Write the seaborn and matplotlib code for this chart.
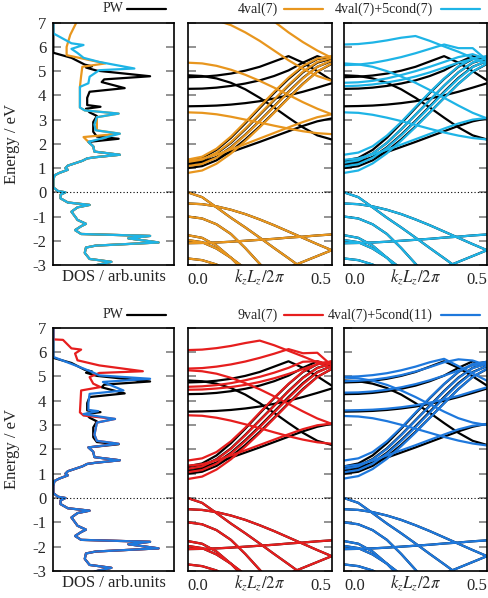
import matplotlib
matplotlib.use('Agg')
import matplotlib.pyplot as plt
from matplotlib.lines import Line2D
import pandas as pd
import seaborn as sns

# k-points along the wire axis (k_z L_z / 2pi)
K = [0.0, 0.05, 0.10, 0.15, 0.20, 0.25, 0.30, 0.35, 0.40, 0.45, 0.50]

# valence bands (same in all panels)
VALENCE = [
    [0.00, -0.20, -0.62, -1.05, -1.45, -1.87, -2.30, -2.72, -3.15, -3.60, -4.00],
    [-0.46, -0.49, -0.58, -0.72, -0.90, -1.12, -1.36, -1.62, -1.88, -2.14, -2.39],
    [-1.00, -1.08, -1.32, -1.72, -2.30, -2.95, -3.60, -4.20, -4.80, -5.30, -5.70],
    [-2.10, -2.09, -2.07, -2.04, -2.00, -1.96, -1.92, -1.87, -1.83, -1.78, -1.74],
    [-1.77, -1.88, -2.20, -2.70, -3.30, -3.90, -4.50, -5.10, -5.60, -6.00, -6.30],
    [-1.97, -2.06, -2.32, -2.70, -3.15, -3.70, -4.20, -4.70, -5.20, -5.60, -5.90],
    [-2.73, -2.80, -2.98, -3.30, -3.70, -4.10, -4.50, -4.90, -5.30, -5.60, -5.90],
    [-5.00, -4.80, -4.60, -4.40, -4.20, -3.95, -3.60, -3.11, -2.87, -2.63, -2.39],
]

# conduction bands, plane waves reference
PW_COND = [
    [1.00, 1.08, 1.32, 1.70, 2.18, 2.72, 3.30, 3.90, 4.48, 4.98, 5.30],
    [1.10, 1.19, 1.45, 1.86, 2.38, 2.95, 3.55, 4.15, 4.72, 5.18, 5.42],
    [1.22, 1.32, 1.60, 2.04, 2.60, 3.20, 3.80, 4.40, 4.95, 5.35, 5.52],
    [1.30, 1.42, 1.75, 2.25, 2.85, 3.48, 4.10, 4.68, 5.18, 5.50, 5.60],
    [1.18, 1.26, 1.45, 1.66, 1.87, 2.08, 2.30, 2.52, 2.74, 2.93, 3.05],
    [3.55, 3.56, 3.58, 3.62, 3.68, 3.76, 3.87, 4.00, 4.15, 4.32, 4.50],
    [4.27, 4.28, 4.32, 4.39, 4.49, 4.62, 4.80, 5.03, 5.35, 5.62, 5.40],
    [4.75, 4.77, 4.82, 4.90, 5.02, 5.18, 5.40, 5.62, 5.35, 5.00, 4.62],
    [4.83, 4.80, 4.70, 4.52, 4.25, 3.90, 3.50, 3.08, 2.68, 2.35, 2.18],
]

# 4val(7)
VAL4_COND = [
    [0.80, 0.90, 1.18, 1.60, 2.12, 2.68, 3.28, 3.88, 4.46, 4.98, 5.32],
    [1.08, 1.17, 1.43, 1.84, 2.36, 2.93, 3.53, 4.13, 4.70, 5.18, 5.45],
    [1.25, 1.35, 1.63, 2.07, 2.63, 3.23, 3.83, 4.43, 4.98, 5.38, 5.55],
    [1.35, 1.47, 1.80, 2.30, 2.90, 3.53, 4.15, 4.73, 5.22, 5.52, 5.62],
    [1.30, 1.38, 1.56, 1.77, 1.99, 2.22, 2.45, 2.68, 2.90, 3.10, 3.22],
    [3.30, 3.28, 3.22, 3.12, 3.00, 2.88, 2.75, 2.63, 2.52, 2.44, 2.40],
    [5.35, 5.32, 5.22, 5.06, 4.85, 4.60, 4.32, 4.02, 3.72, 3.45, 3.22],
    [7.30, 7.25, 7.10, 6.90, 6.60, 6.25, 5.85, 5.45, 5.10, 4.80, 4.60],
    [8.80, 8.70, 8.50, 8.20, 7.85, 7.45, 7.05, 6.60, 6.20, 5.85, 5.55],
]

# 4val(7)+5cond(7)
VAL4_COND5_7 = [
    [6.10, 6.12, 6.18, 6.27, 6.38, 6.45, 6.25, 6.02, 5.80, 5.55, 5.30],
    [5.25, 5.27, 5.34, 5.45, 5.58, 5.74, 5.92, 6.10, 5.95, 5.95, 5.45],
    [5.32, 5.28, 5.18, 5.00, 4.78, 4.52, 4.22, 3.90, 3.58, 3.28, 3.05],
    [4.52, 4.54, 4.60, 4.70, 4.84, 5.00, 5.18, 5.38, 5.58, 5.70, 5.50],
    [4.38, 4.40, 4.45, 4.53, 4.64, 4.78, 4.95, 5.15, 5.35, 5.50, 5.35],
    [3.30, 3.28, 3.20, 3.08, 2.94, 2.78, 2.62, 2.47, 2.34, 2.24, 2.18],
    [0.80, 0.90, 1.19, 1.61, 2.13, 2.69, 3.29, 3.89, 4.47, 4.98, 5.32],
    [1.07, 1.16, 1.42, 1.83, 2.35, 2.92, 3.52, 4.12, 4.69, 5.17, 5.44],
    [1.22, 1.32, 1.60, 2.04, 2.60, 3.20, 3.80, 4.40, 4.95, 5.36, 5.54],
    [1.55, 1.64, 1.90, 2.34, 2.90, 3.52, 4.13, 4.70, 5.20, 5.52, 5.62],
    [1.34, 1.40, 1.56, 1.76, 1.97, 2.19, 2.41, 2.63, 2.84, 3.00, 3.07],
]

# 9val(7)
VAL9_COND = [
    [6.08, 6.10, 6.16, 6.25, 6.37, 6.47, 6.28, 6.05, 5.82, 5.58, 5.33],
    [5.32, 5.34, 5.40, 5.49, 5.61, 5.76, 5.93, 6.12, 5.95, 5.97, 5.45],
    [5.25, 5.21, 5.11, 4.94, 4.72, 4.47, 4.18, 3.87, 3.56, 3.27, 3.05],
    [4.57, 4.59, 4.64, 4.72, 4.84, 4.98, 5.15, 5.35, 5.60, 5.62, 5.48],
    [4.45, 4.46, 4.50, 4.56, 4.65, 4.77, 4.92, 5.10, 5.30, 5.50, 5.62],
    [3.40, 3.38, 3.30, 3.18, 3.03, 2.87, 2.70, 2.54, 2.40, 2.29, 2.23],
    [0.78, 0.88, 1.17, 1.59, 2.11, 2.67, 3.27, 3.87, 4.45, 4.97, 5.31],
    [1.06, 1.15, 1.41, 1.82, 2.34, 2.91, 3.51, 4.11, 4.68, 5.16, 5.43],
    [1.20, 1.30, 1.58, 2.02, 2.58, 3.18, 3.78, 4.38, 4.93, 5.34, 5.53],
    [1.54, 1.63, 1.89, 2.33, 2.89, 3.51, 4.12, 4.69, 5.19, 5.51, 5.61],
    [1.33, 1.39, 1.55, 1.75, 1.96, 2.18, 2.40, 2.62, 2.83, 2.99, 3.06],
]

# 4val(7)+5cond(11)
VAL4_COND5_11 = [
    [4.98, 5.00, 5.05, 5.13, 5.25, 5.40, 5.58, 5.72, 5.42, 5.12, 4.82],
    [4.80, 4.82, 4.86, 4.94, 5.05, 5.20, 5.38, 5.58, 5.70, 5.65, 5.45],
    [4.33, 4.34, 4.38, 4.45, 4.55, 4.68, 4.84, 5.03, 5.24, 5.45, 5.55],
    [3.60, 3.61, 3.63, 3.67, 3.73, 3.81, 3.92, 4.05, 4.20, 4.38, 4.55],
    [4.95, 4.92, 4.82, 4.65, 4.42, 4.15, 3.85, 3.55, 3.28, 3.10, 3.00],
    [3.37, 3.35, 3.28, 3.16, 3.01, 2.85, 2.68, 2.51, 2.36, 2.24, 2.16],
    [0.80, 0.90, 1.19, 1.61, 2.13, 2.69, 3.29, 3.89, 4.47, 4.98, 5.31],
    [1.06, 1.15, 1.41, 1.82, 2.34, 2.91, 3.51, 4.11, 4.68, 5.16, 5.43],
    [1.20, 1.30, 1.58, 2.02, 2.58, 3.18, 3.78, 4.38, 4.93, 5.34, 5.52],
    [1.54, 1.63, 1.89, 2.33, 2.89, 3.51, 4.12, 4.69, 5.19, 5.51, 5.60],
    [1.30, 1.37, 1.54, 1.75, 1.96, 2.17, 2.39, 2.61, 2.82, 2.97, 3.04],
]

# DOS (value, energy) pairs, low energy part is shared by all curves
DOS_LOW_E = [2.08, 1.90, 1.68, 1.55, 1.45, 1.40, 1.30, 1.10, 1.00, 0.93, 0.80, 0.70,
             0.50, 0.20, 0.05, 0.00, -0.10, -0.25, -0.42, -0.52, -0.62, -0.80, -1.00,
             -1.14, -1.30, -1.40, -1.56, -1.72, -1.80, -1.90, -2.07, -2.20, -2.28,
             -2.50, -2.75, -2.87, -3.00, -3.10]
DOS_LOW = [0.29, 0.33, 0.34, 0.55, 0.35, 0.28, 0.24, 0.12, 0.10, 0.12, 0.05, 0.01,
           0.00, 0.00, 0.04, 0.10, 0.06, 0.06, 0.12, 0.30, 0.20, 0.15, 0.18,
           0.20, 0.27, 0.23, 0.18, 0.23, 0.80, 0.62, 0.87, 0.35, 0.27,
           0.26, 0.30, 0.48, 0.36, 0.30]

PW_DOS_E = [7.0, 5.90, 5.76, 5.55, 5.27, 5.20, 5.15, 5.02, 4.79, 4.66, 4.55, 4.30,
            4.15, 3.90, 3.60, 3.53, 3.45, 3.30, 3.15, 2.90, 2.50, 2.30, 2.21]
PW_DOS = [0.0, 0.0, 0.0, 0.15, 0.26, 0.32, 0.27, 0.36, 0.80, 0.42, 0.40, 0.59,
          0.30, 0.28, 0.28, 0.39, 0.27, 0.30, 0.36, 0.33, 0.33, 0.36, 0.54]

VAL4_DOS_E = [7.0, 6.50, 6.00, 5.66, 5.32, 5.18, 4.80, 4.35, 3.50, 3.38, 3.25,
              3.10, 2.56, 2.42, 2.28]
VAL4_DOS = [0.19, 0.14, 0.11, 0.11, 0.43, 0.24, 0.23, 0.22, 0.22, 0.26, 0.54,
            0.36, 0.36, 0.55, 0.25]

VAL4_COND5_7_DOS_E = [7.0, 6.56, 6.15, 6.08, 5.92, 5.75, 5.55, 5.38, 5.11, 5.04,
                      4.77, 4.50, 4.35, 3.50, 3.38, 3.25, 3.10, 2.80, 2.56, 2.42]
VAL4_COND5_7_DOS = [0.0, 0.0, 0.15, 0.25, 0.15, 0.20, 0.25, 0.38, 0.67, 0.38,
                    0.30, 0.29, 0.22, 0.22, 0.26, 0.54, 0.36, 0.34, 0.35, 0.55]

VAL9_DOS_E = [7.0, 6.52, 6.50, 6.15, 6.10, 5.94, 5.66, 5.45, 5.21, 5.14, 4.97,
              4.70, 4.56, 4.42, 3.52, 3.39, 3.25, 3.10, 2.60, 2.35, 2.23]
VAL9_DOS = [0.0, 0.0, 0.08, 0.15, 0.23, 0.18, 0.20, 0.38, 0.74, 0.38, 0.30,
            0.33, 0.39, 0.23, 0.22, 0.25, 0.51, 0.36, 0.34, 0.36, 0.54]

VAL4_COND5_11_DOS_E = [7.0, 5.80, 5.32, 5.18, 5.04, 4.90, 4.77, 4.42, 4.28, 3.90,
                       3.62, 3.57, 3.45, 3.25, 3.10, 2.60, 2.35, 2.23]
VAL4_COND5_11_DOS = [0.0, 0.0, 0.25, 0.32, 0.38, 0.80, 0.41, 0.58, 0.30, 0.29,
                     0.29, 0.37, 0.25, 0.51, 0.36, 0.34, 0.36, 0.54]

ORANGE = '#E8961E'
CYAN = '#1EB4E6'
RED = '#E61E1E'
BLUE = '#1E78DC'

ROWS = [
    ('4val(7)', VAL4_COND, VAL4_DOS_E, VAL4_DOS, ORANGE,
     '4val(7)+5cond(7)', VAL4_COND5_7, VAL4_COND5_7_DOS_E, VAL4_COND5_7_DOS, CYAN),
    ('9val(7)', VAL9_COND, VAL9_DOS_E, VAL9_DOS, RED,
     '4val(7)+5cond(11)', VAL4_COND5_11, VAL4_COND5_11_DOS_E, VAL4_COND5_11_DOS, BLUE),
]


def bands_frame(bands):
    rows = []
    for i, b in enumerate(bands):
        for k, e in zip(K, b):
            rows.append((k, e, i))
    return pd.DataFrame(rows, columns=['k', 'E', 'band'])


def draw_bands(ax, cond, color):
    sns.lineplot(data=bands_frame(VALENCE + PW_COND), x='k', y='E', units='band',
                 estimator=None, sort=False, color='black', linewidth=1.6, ax=ax)
    sns.lineplot(data=bands_frame(VALENCE + cond), x='k', y='E', units='band',
                 estimator=None, sort=False, color=color, linewidth=1.6, ax=ax)


def draw_dos(ax, e_up, d_up, color):
    sns.lineplot(x=d_up + DOS_LOW, y=e_up + DOS_LOW_E, sort=False, estimator=None,
                 color=color, linewidth=1.6, ax=ax)


sns.set_style('ticks')
plt.rcParams['font.family'] = ['Liberation Serif', 'DejaVu Serif']
plt.rcParams['mathtext.fontset'] = 'stix'
plt.rcParams['axes.unicode_minus'] = False

fig = plt.figure(figsize=(4.88, 5.98), dpi=100)

W, H = 488.0, 598.0
col_px = [(53.3, 174.3), (187.7, 331.7), (344.0, 487.0)]
row_px = [(22.7, 265.0), (327.7, 571.0)]
legend_y = [9.0, 315.0]
legend_px = [(123, 127, 166), (278, 284, 323), (433, 441, 480)]

for r, (n1, c1, de1, d1, col1, n2, c2, de2, d2, col2) in enumerate(ROWS):
    top, bot = row_px[r]
    axes = []
    for left, right in col_px:
        ax = fig.add_axes([left / W, 1 - bot / H, (right - left) / W, (bot - top) / H])
        axes.append(ax)
    ax_dos, ax1, ax2 = axes

    draw_dos(ax_dos, PW_DOS_E, PW_DOS, 'black')
    draw_dos(ax_dos, de1, d1, col1)
    draw_dos(ax_dos, de2, d2, col2)
    draw_bands(ax1, c1, col1)
    draw_bands(ax2, c2, col2)

    for ax in axes:
        ax.set_ylim(-3, 7)
        ax.set_yticks(range(-3, 8))
        ax.axhline(0, color='black', linestyle=(0, (1, 2)), linewidth=0.8)
        ax.tick_params(axis='y', direction='in', left=True, right=True, length=6,
                       width=1.2, color='#808080', labelsize=12, pad=5)
        for s in ax.spines.values():
            s.set_linewidth(1.2)
            s.set_color('black')
        ax.set_ylabel('')

    ax_dos.set_xlim(0, 1)
    ax_dos.set_xticks([])
    ax_dos.set_xlabel('DOS / arb.units', fontsize=12)
    ax_dos.xaxis.set_label_coords(0.5, -0.05)
    ax_dos.xaxis.label.set_va('center')
    ax_dos.set_ylabel('Energy / eV', fontsize=12)
    ax_dos.yaxis.set_label_coords(-0.34, 0.5)
    ax_dos.yaxis.label.set_va('center')

    for ax in (ax1, ax2):
        ax.set_xlim(0, 0.5)
        ax.set_xticks([0, 0.5])
        ax.set_xticklabels(['0.0', '0.5'])
        lbls = ax.get_xticklabels()
        lbls[0].set_ha('left')
        lbls[1].set_ha('right')
        ax.tick_params(axis='x', length=0, labelsize=12, pad=5)
        ax.tick_params(axis='y', labelleft=False)
        ax.set_xlabel('$k_zL_z/2\\pi$', fontsize=12)
        ax.xaxis.set_label_coords(0.5, -0.05)
        ax.xaxis.label.set_va('center')

    # gnuplot-like key above each row
    fy = 1 - legend_y[r] / H
    for (tx, l0, l1), name, color in zip(legend_px, ['PW', n1, n2], ['black', col1, col2]):
        fig.text(tx / W, fy, name, ha='right', va='center', fontsize=10)
        fig.add_artist(Line2D([l0 / W, l1 / W], [fy, fy], color=color, linewidth=1.6,
                              transform=fig.transFigure))

fig.savefig('out.png', dpi=100, facecolor='white')
